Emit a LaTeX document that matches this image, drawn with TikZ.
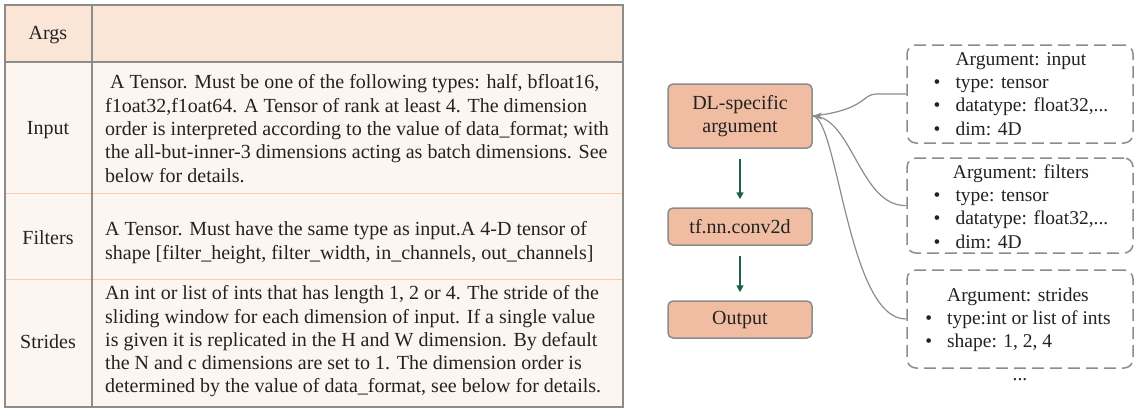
\documentclass[tikz,border=0pt]{standalone}
\usepackage{fontspec}
\setmainfont{Liberation Serif}
\usetikzlibrary{arrows.meta}
\definecolor{headfill}{HTML}{FBE5D6}
\definecolor{bodyfill}{HTML}{FDF6F0}
\definecolor{rowline}{HTML}{F6CDB2}
\definecolor{gridgray}{HTML}{8C8C8C}
\definecolor{boxfill}{HTML}{F0BDA2}
\definecolor{arrgreen}{HTML}{1F5E4E}
\definecolor{txt}{HTML}{222222}
\tikzset{
  celltext/.style={anchor=west, align=left, inner sep=0pt, text=txt, font=\fontsize{20}{23.3}\selectfont},
  labeltext/.style={anchor=center, inner sep=0pt, text=txt, font=\fontsize{20}{23.3}\selectfont},
  flowbox/.style={draw=gridgray, line width=1.5pt, fill=boxfill, rounded corners=5pt, minimum width=144pt, inner sep=0pt, align=center, text=txt, font=\fontsize{20}{23.3}\selectfont},
  argbox/.style={draw=gridgray, line width=1.5pt, dash pattern=on 12pt off 6pt, rounded corners=9pt, minimum width=226pt, inner sep=0pt},
  argtext/.style={anchor=center, inner sep=0pt, text=txt, font=\fontsize{19.5}{23.3}\selectfont},
  flowarrow/.style={draw=arrgreen, line width=1.6pt, -{Triangle[length=7pt,width=7pt]}, shorten <=10pt, shorten >=8pt},
  conn/.style={draw=gridgray, line width=1.2pt},
}
\begin{document}
\begin{tikzpicture}[x=1pt,y=1pt]
\useasboundingbox (0,0) rectangle (1135,-408);
% table backgrounds
\fill[headfill] (5,-5) rectangle (623,-62);
\fill[bodyfill] (5,-62) rectangle (623,-408);
\draw[rowline, line width=1pt] (5,-193) -- (623,-193);
\draw[rowline, line width=1pt] (5,-279) -- (623,-279);
\draw[gridgray, line width=1.2pt] (5,-62) -- (623,-62);
\draw[gridgray, line width=1.8pt] (92,-5) -- (92,-408);
\draw[gridgray, line width=1.8pt] (5,-407) -- (5,-5) -- (623,-5) -- (623,-407) -- cycle;
% labels
\node[labeltext] (largs) at (48,-35) {Args};
\node[labeltext] (linput) at (48,-130) {Input};
\node[labeltext] (lfilters) at (48,-238) {Filters};
\node[labeltext] (lstrides) at (48,-342) {Strides};
% cells
\node[celltext] (cinput) at (105,-128.5) {\ A Tensor. Must be one of the following types: half, bfloat16,\\
f1oat32,f1oat64. A Tensor of rank at least 4. The dimension\\
order is interpreted according to the value of data\_format; with\\
the all-but-inner-3 dimensions acting as batch dimensions. See\\
below for details.};
\node[celltext] (cfilters) at (105,-242.5) {A Tensor. Must have the same type as input.A 4-D tensor of\\
shape [filter\_height, filter\_width, in\_channels, out\_channels]};
\node[celltext] (cstrides) at (105,-341.5) {An int or list of ints that has length 1, 2 or 4. The stride of the\\
sliding window for each dimension of input. If a single value\\
is given it is replicated in the H and W dimension. By default\\
the N and c dimensions are set to 1. The dimension order is\\
determined by the value of data\_format, see below for details.};
% flow boxes
\node[flowbox, minimum height=64pt] (dl) at (740,-116) {DL-specific\\argument};
\node[flowbox, minimum height=37pt] (conv) at (740,-226.5) {tf.nn.conv2d};
\node[flowbox, minimum height=37pt] (out) at (740,-319.5) {Output};
\draw[flowarrow] (dl) -- (conv);
\draw[flowarrow] (conv) -- (out);
% argument boxes
\node[argbox, minimum height=98pt] (ainput) at (1020,-94) {};
\node[argbox, minimum height=95pt] (afilters) at (1020,-205.5) {};
\node[argbox, minimum height=98pt] (astrides) at (1020,-319) {};
\node[argtext] (tinput) at (1021,-95.5) {\begin{tabular}{@{}l@{\hspace{15pt}}l@{}}
\multicolumn{2}{@{}c@{}}{Argument: input}\\
\textbullet & type: tensor\\
\textbullet & datatype: float32,...\\
\textbullet & dim: 4D
\end{tabular}};
\node[argtext] (tfilters) at (1021,-208.5) {\begin{tabular}{@{}l@{\hspace{15pt}}l@{}}
\multicolumn{2}{@{}c@{}}{Argument: filters}\\
\textbullet & type: tensor\\
\textbullet & datatype: float32,...\\
\textbullet & dim: 4D
\end{tabular}};
\node[argtext] (tstrides) at (1018,-320) {\begin{tabular}{@{}l@{\hspace{15pt}}l@{}}
\multicolumn{2}{@{}c@{}}{Argument: strides}\\
\textbullet & type:int or list of ints\\
\textbullet & shape: 1, 2, 4
\end{tabular}};
\node[argtext] (dots) at (1020,-380) {...};
% connectors
\coordinate (tip) at (dl.east);
\draw[conn] (ainput.west) -- ++(-30,0) .. controls (862,-94) and (866,-110) .. (tip);
\draw[conn] (afilters.west) .. controls (860,-207) and (852,-116) .. (tip);
\draw[conn] (astrides.west) .. controls (848,-320) and (838,-118) .. (tip);
\fill[gridgray] (tip) -- ++(9,3.5) -- ++(-2,-3.5) -- ++(2,-3.5) -- cycle;
\end{tikzpicture}
\end{document}
